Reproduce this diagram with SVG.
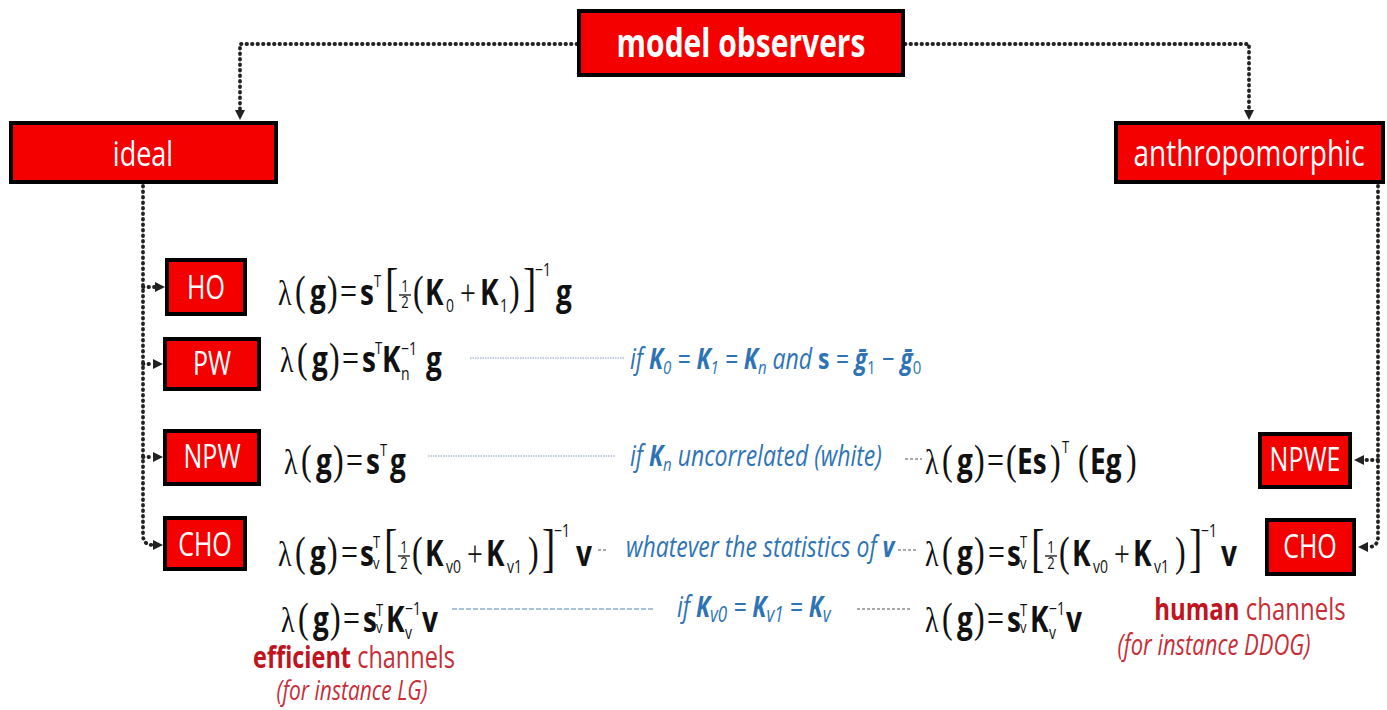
<svg xmlns="http://www.w3.org/2000/svg" width="1387" height="710" viewBox="0 0 1387 710">
<style>
.box{fill:#f50000;stroke:#000;stroke-width:4}
.lbl{font-family:"Open Sans","Liberation Sans",sans-serif;fill:#fff;text-anchor:middle}
.conn{fill:none;stroke:#222;stroke-width:3.8;stroke-linecap:round;stroke-dasharray:0.5 5}
.lead{fill:none;stroke:#7f9cc0;stroke-width:1.2;stroke-dasharray:1.5 1}
.dash{fill:none;stroke:#555;stroke-width:1.2;stroke-dasharray:3 2}
.bdash{fill:none;stroke:#4f86c0;stroke-width:1.2;stroke-dasharray:5 2}
.eq{fill:#111}
.sr{font-family:"Liberation Serif","DejaVu Serif",serif}
.bs{font-family:"Open Sans","Liberation Sans",sans-serif;font-weight:700;font-size:28px}
.rs{font-family:"Open Sans","Liberation Sans",sans-serif;font-weight:400}
.bl{font-family:"Open Sans","Noto Sans",sans-serif;font-style:italic;fill:#2e74b5;font-size:23px}
.bk{font-weight:700}
.red{font-family:"Open Sans","Liberation Sans",sans-serif;fill:#c62f38}
</style>
<defs>
<marker id="ah" viewBox="0 0 10 10" refX="0" refY="5" markerWidth="10" markerHeight="10" markerUnits="userSpaceOnUse" orient="auto">
<path d="M0,0 L10,5 L0,10 z" fill="#222"/>
</marker>
</defs>

<g id="connectors">
<path class="conn" d="M577,44 H240 V110" marker-end="url(#ah)"/>
<path class="conn" d="M905,44 H1249 V110" marker-end="url(#ah)"/>
<path class="conn" d="M143,186 V535 Q143,545 153,545" marker-end="url(#ah)"/>
<path class="conn" d="M143,287 H155" marker-end="url(#ah)"/>
<path class="conn" d="M143,364 H153" marker-end="url(#ah)"/>
<path class="conn" d="M143,457 H153" marker-end="url(#ah)"/>
<path class="conn" d="M1378,186 V537 Q1378,547 1368,547" marker-end="url(#ah)"/>
<path class="conn" d="M1378,460 H1364" marker-end="url(#ah)"/>
<g id="leaders">
<line class="lead" x1="470" y1="358" x2="625" y2="358"/>
<line class="lead" x1="428" y1="456" x2="615" y2="456"/>
<line class="dash" x1="905" y1="459" x2="922" y2="459"/>
<line class="dash" x1="598" y1="550" x2="606" y2="550"/>
<line class="dash" x1="898" y1="550" x2="918" y2="550"/>
<line class="bdash" x1="452" y1="609" x2="655" y2="609"/>
<line class="dash" x1="857" y1="609" x2="912" y2="609"/>
</g>
</g>

<g id="node-model-observers">
<rect class="box" x="579" y="11" width="324" height="64"/>
<text class="lbl" font-weight="700" font-size="30" transform="translate(741,57) scale(1,1.3)">model observers</text>
</g>
<g id="node-ideal">
<rect class="box" x="11" y="123" width="265" height="59"/>
<text class="lbl" font-size="27" transform="translate(143,166) scale(1,1.3)">ideal</text>
</g>
<g id="node-anthropomorphic">
<rect class="box" x="1116" y="123" width="267" height="59"/>
<text class="lbl" font-size="28" transform="translate(1249,166) scale(1,1.3)">anthropomorphic</text>
</g>
<g id="node-ho">
<rect class="box" x="167" y="260" width="78" height="54"/>
<text class="lbl" font-size="25" transform="translate(206,299) scale(1,1.3)">HO</text>
</g>
<g id="node-pw">
<rect class="box" x="165" y="339" width="94" height="50"/>
<text class="lbl" font-size="25" transform="translate(212,375) scale(1,1.3)">PW</text>
</g>
<g id="node-npw">
<rect class="box" x="165" y="431" width="94" height="53"/>
<text class="lbl" font-size="25" transform="translate(212,468) scale(1,1.3)">NPW</text>
</g>
<g id="node-cho-left">
<rect class="box" x="165" y="518" width="80" height="51"/>
<text class="lbl" font-size="25" transform="translate(205,556) scale(1,1.3)">CHO</text>
</g>
<g id="node-npwe">
<rect class="box" x="1260" y="434" width="90" height="53"/>
<text class="lbl" font-size="25" transform="translate(1305,471) scale(1,1.3)">NPWE</text>
</g>
<g id="node-cho-right">
<rect class="box" x="1267" y="520" width="87" height="54"/>
<text class="lbl" font-size="25" transform="translate(1310,558) scale(1,1.3)">CHO</text>
</g>

<g id="eq-ho" class="eq" transform="translate(0,305) scale(1,1.3)">
<text y="0"><tspan class="sr" font-size="28" x="278">λ</tspan><tspan class="sr" font-size="32" x="295">(</tspan><tspan class="bs" x="310">g</tspan><tspan class="sr" font-size="32" x="327">)</tspan><tspan class="sr" font-size="30" x="340">=</tspan><tspan class="bs" x="360">s</tspan><tspan class="rs" font-size="13" x="374" y="-14">T</tspan><tspan class="sr" font-size="40" x="385" y="0">[</tspan><tspan class="sr" font-size="32" x="413">(</tspan><tspan class="bs" x="425">K</tspan><tspan class="rs" font-size="14" x="446" y="5">0</tspan><tspan class="sr" font-size="28" x="460" y="0">+</tspan><tspan class="bs" x="480">K</tspan><tspan class="rs" font-size="14" x="500" y="5">1</tspan><tspan class="sr" font-size="32" x="509" y="0">)</tspan><tspan class="sr" font-size="40" x="523">]</tspan><tspan class="rs" font-size="14" x="535" y="-22">−1</tspan><tspan class="bs" x="556" y="0">g</tspan></text>
<text class="rs" font-size="13" x="405" y="-10" text-anchor="middle">1</text>
<line x1="399" y1="-7.7" x2="411" y2="-7.7" stroke="#111" stroke-width="1"/>
<text class="rs" font-size="13" x="405" y="2.3" text-anchor="middle">2</text>
</g>

<g id="eq-pw" class="eq" transform="translate(0,372) scale(1,1.3)">
<text y="0"><tspan class="sr" font-size="28" x="280">λ</tspan><tspan class="sr" font-size="32" x="297">(</tspan><tspan class="bs" x="312">g</tspan><tspan class="sr" font-size="32" x="329">)</tspan><tspan class="sr" font-size="30" x="342">=</tspan><tspan class="bs" x="362">s</tspan><tspan class="rs" font-size="13" x="375" y="-14">T</tspan><tspan class="bs" x="382" y="0">K</tspan><tspan class="rs" font-size="14" x="401" y="-13">−1</tspan><tspan class="rs" font-size="14" x="401" y="6">n</tspan><tspan class="bs" x="426" y="0">g</tspan></text>
</g>

<g id="eq-npw" class="eq" transform="translate(0,474) scale(1,1.3)">
<text y="0"><tspan class="sr" font-size="28" x="284">λ</tspan><tspan class="sr" font-size="32" x="301">(</tspan><tspan class="bs" x="316">g</tspan><tspan class="sr" font-size="32" x="333">)</tspan><tspan class="sr" font-size="30" x="346">=</tspan><tspan class="bs" x="366">s</tspan><tspan class="rs" font-size="13" x="380" y="-14">T</tspan><tspan class="bs" x="390" y="0">g</tspan></text>
</g>

<g id="eq-cho" class="eq" transform="translate(0,566) scale(1,1.3)">
<text y="0"><tspan class="sr" font-size="28" x="278">λ</tspan><tspan class="sr" font-size="32" x="295">(</tspan><tspan class="bs" x="310">g</tspan><tspan class="sr" font-size="32" x="327">)</tspan><tspan class="sr" font-size="30" x="341">=</tspan><tspan class="bs" x="360">s</tspan><tspan class="rs" font-size="13" x="373" y="-14">T</tspan><tspan class="rs" font-size="13" x="373" y="2">v</tspan><tspan class="sr" font-size="40" x="384" y="0">[</tspan><tspan class="sr" font-size="32" x="412">(</tspan><tspan class="bs" x="425">K</tspan><tspan class="rs" font-size="14" x="446" y="5">v0</tspan><tspan class="sr" font-size="28" x="467" y="0">+</tspan><tspan class="bs" x="486">K</tspan><tspan class="rs" font-size="14" x="507" y="5">v1</tspan><tspan class="sr" font-size="32" x="528" y="0">)</tspan><tspan class="sr" font-size="40" x="542">]</tspan><tspan class="rs" font-size="14" x="554" y="-22">−1</tspan><tspan class="bs" x="576" y="0">v</tspan></text>
<text class="rs" font-size="13" x="404" y="-10" text-anchor="middle">1</text>
<line x1="398" y1="-7.7" x2="410" y2="-7.7" stroke="#111" stroke-width="1"/>
<text class="rs" font-size="13" x="404" y="2.3" text-anchor="middle">2</text>
</g>

<g id="eq-cho2" class="eq" transform="translate(0,632) scale(1,1.3)">
<text y="0"><tspan class="sr" font-size="28" x="281">λ</tspan><tspan class="sr" font-size="32" x="298">(</tspan><tspan class="bs" x="313">g</tspan><tspan class="sr" font-size="32" x="330">)</tspan><tspan class="sr" font-size="30" x="343">=</tspan><tspan class="bs" x="363">s</tspan><tspan class="rs" font-size="13" x="376" y="-12">T</tspan><tspan class="rs" font-size="13" x="376" y="1">v</tspan><tspan class="bs" x="386" y="0">K</tspan><tspan class="rs" font-size="14" x="405" y="-13">−1</tspan><tspan class="rs" font-size="14" x="405" y="5">v</tspan><tspan class="bs" x="422" y="0">v</tspan></text>
</g>

<g id="eq-npwe" class="eq" transform="translate(0,474) scale(1,1.3)">
<text y="0"><tspan class="sr" font-size="28" x="925">λ</tspan><tspan class="sr" font-size="32" x="942">(</tspan><tspan class="bs" x="957">g</tspan><tspan class="sr" font-size="32" x="974">)</tspan><tspan class="sr" font-size="30" x="987">=</tspan><tspan class="sr" font-size="32" x="1006">(</tspan><tspan class="bs" x="1017">Es</tspan><tspan class="sr" font-size="32" x="1050">)</tspan><tspan class="rs" font-size="13" x="1062" y="-16">T</tspan><tspan class="sr" font-size="32" x="1078" y="0">(</tspan><tspan class="bs" x="1090">Eg</tspan><tspan class="sr" font-size="32" x="1126">)</tspan></text>
</g>

<g id="eq-cho-right" class="eq" transform="translate(0,566) scale(1,1.3)">
<text y="0"><tspan class="sr" font-size="28" x="925">λ</tspan><tspan class="sr" font-size="32" x="942">(</tspan><tspan class="bs" x="957">g</tspan><tspan class="sr" font-size="32" x="974">)</tspan><tspan class="sr" font-size="30" x="988">=</tspan><tspan class="bs" x="1007">s</tspan><tspan class="rs" font-size="13" x="1020" y="-14">T</tspan><tspan class="rs" font-size="13" x="1020" y="2">v</tspan><tspan class="sr" font-size="40" x="1031" y="0">[</tspan><tspan class="sr" font-size="32" x="1059">(</tspan><tspan class="bs" x="1072">K</tspan><tspan class="rs" font-size="14" x="1093" y="5">v0</tspan><tspan class="sr" font-size="28" x="1114" y="0">+</tspan><tspan class="bs" x="1133">K</tspan><tspan class="rs" font-size="14" x="1154" y="5">v1</tspan><tspan class="sr" font-size="32" x="1175" y="0">)</tspan><tspan class="sr" font-size="40" x="1189">]</tspan><tspan class="rs" font-size="14" x="1201" y="-22">−1</tspan><tspan class="bs" x="1221" y="0">v</tspan></text>
<text class="rs" font-size="13" x="1051" y="-10" text-anchor="middle">1</text>
<line x1="1045" y1="-7.7" x2="1057" y2="-7.7" stroke="#111" stroke-width="1"/>
<text class="rs" font-size="13" x="1051" y="2.3" text-anchor="middle">2</text>
</g>

<g id="eq-cho2-right" class="eq" transform="translate(0,632) scale(1,1.3)">
<text y="0"><tspan class="sr" font-size="28" x="925">λ</tspan><tspan class="sr" font-size="32" x="942">(</tspan><tspan class="bs" x="957">g</tspan><tspan class="sr" font-size="32" x="974">)</tspan><tspan class="sr" font-size="30" x="987">=</tspan><tspan class="bs" x="1007">s</tspan><tspan class="rs" font-size="13" x="1020" y="-12">T</tspan><tspan class="rs" font-size="13" x="1020" y="1">v</tspan><tspan class="bs" x="1030" y="0">K</tspan><tspan class="rs" font-size="14" x="1049" y="-13">−1</tspan><tspan class="rs" font-size="14" x="1049" y="5">v</tspan><tspan class="bs" x="1066" y="0">v</tspan></text>
</g>

<g id="conditions">
<text class="bl" transform="translate(630,369) scale(1,1.25)">if <tspan class="bk">K</tspan><tspan font-size="15" dy="4">0</tspan><tspan dy="-4"> = </tspan><tspan class="bk">K</tspan><tspan font-size="15" dy="4">1</tspan><tspan dy="-4"> = </tspan><tspan class="bk">K</tspan><tspan font-size="15" dy="4">n</tspan><tspan dy="-4"> and </tspan><tspan class="bk" font-style="normal">s</tspan> = <tspan class="bk">ḡ</tspan><tspan font-size="15" font-style="normal" dy="4">1</tspan><tspan dy="-4"> − </tspan><tspan class="bk">ḡ</tspan><tspan font-size="15" font-style="normal" dy="4">0</tspan></text>
<text class="bl" transform="translate(630,466) scale(1,1.25)">if <tspan class="bk">K</tspan><tspan font-size="15" dy="4">n</tspan><tspan dy="-4"> uncorrelated (white)</tspan></text>
<text class="bl" transform="translate(626,557) scale(1,1.25)">whatever the statistics of <tspan class="bk">v</tspan></text>
<text class="bl" font-size="24" transform="translate(677,617) scale(1,1.25)">if <tspan class="bk">K</tspan><tspan font-size="17" dy="4">v0</tspan><tspan dy="-4"> = </tspan><tspan class="bk">K</tspan><tspan font-size="17" dy="4">v1</tspan><tspan dy="-4"> = </tspan><tspan class="bk">K</tspan><tspan font-size="17" dy="4">v</tspan></text>
</g>

<g id="channel-notes">
<text class="red" text-anchor="middle" font-size="23.5" transform="translate(354,668) scale(1,1.3)"><tspan font-weight="700" fill="#c0141e">efficient</tspan> channels</text>
<text class="red" text-anchor="middle" font-size="21" font-style="italic" transform="translate(352,700) scale(1,1.3)">(for instance LG)</text>
<text class="red" text-anchor="middle" font-size="24" transform="translate(1250,620) scale(1,1.3)"><tspan font-weight="700" fill="#c0141e">human</tspan> channels</text>
<text class="red" text-anchor="middle" font-size="22" font-style="italic" transform="translate(1214,655) scale(1,1.3)">(for instance DDOG)</text>
</g>
</svg>
